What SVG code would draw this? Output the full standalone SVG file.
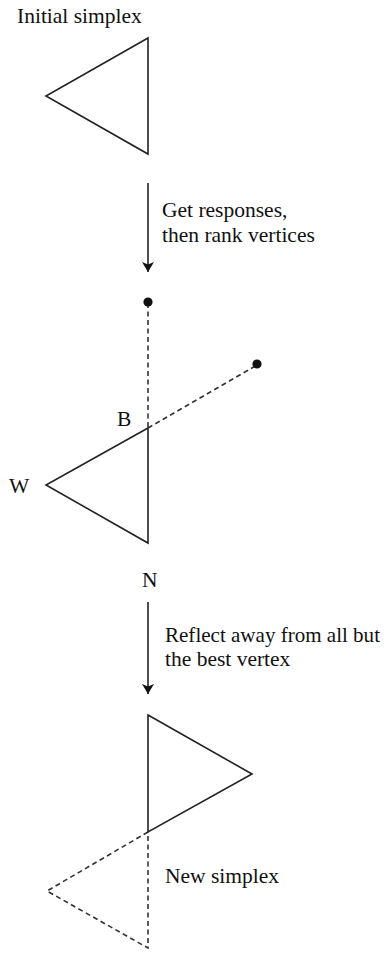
<svg xmlns="http://www.w3.org/2000/svg" width="386" height="953" viewBox="0 0 386 953">
<defs>
<style>
text{font-family:"Liberation Serif","DejaVu Serif",serif;font-size:21.5px;fill:#111}
.s{fill:none;stroke:#222;stroke-width:1.6;stroke-linejoin:miter}
.d{fill:none;stroke:#333;stroke-width:1.6;stroke-dasharray:5 3.5}
.dot{fill:#111}
</style>
<marker id="ah" viewBox="0 0 10 18" refX="10" refY="9" markerWidth="10" markerHeight="18" markerUnits="userSpaceOnUse" orient="auto">
<path d="M0,3 L10,9 L0,15 L2.5,9 Z" fill="#111"/>
</marker>
</defs>
<rect width="386" height="953" fill="#fff"/>
<g id="initial-simplex">
<text x="17" y="23">Initial simplex</text>
<polygon class="s" points="148,38 46,96 148,154"/>
</g>
<g id="ranked-simplex">
<line class="d" x1="148" y1="303" x2="148" y2="428"/>
<line class="d" x1="148" y1="428" x2="257" y2="365"/>
<circle class="dot" cx="148" cy="302" r="4.6"/>
<circle class="dot" cx="257" cy="364" r="4.6"/>
<polygon class="s" points="148,428 46,485 148,543"/>
<text x="117" y="426">B</text>
<text x="9" y="493">W</text>
<text x="142" y="587">N</text>
</g>
<g id="new-simplex">
<polyline class="d" points="148,832 47,891 148,948 148,832"/>
<polygon class="s" points="148,715 252,774 148,832"/>
<text x="165" y="883">New simplex</text>
</g>
<g id="connectors">
<line class="s" x1="148" y1="183" x2="148" y2="272" marker-end="url(#ah)"/>
<text x="162" y="217">Get responses,</text>
<text x="162" y="242">then rank vertices</text>
<line class="s" x1="148" y1="602" x2="148" y2="694" marker-end="url(#ah)"/>
<text x="165" y="642" textLength="215" lengthAdjust="spacingAndGlyphs">Reflect away from all but</text>
<text x="165" y="666">the best vertex</text>
</g>
</svg>
